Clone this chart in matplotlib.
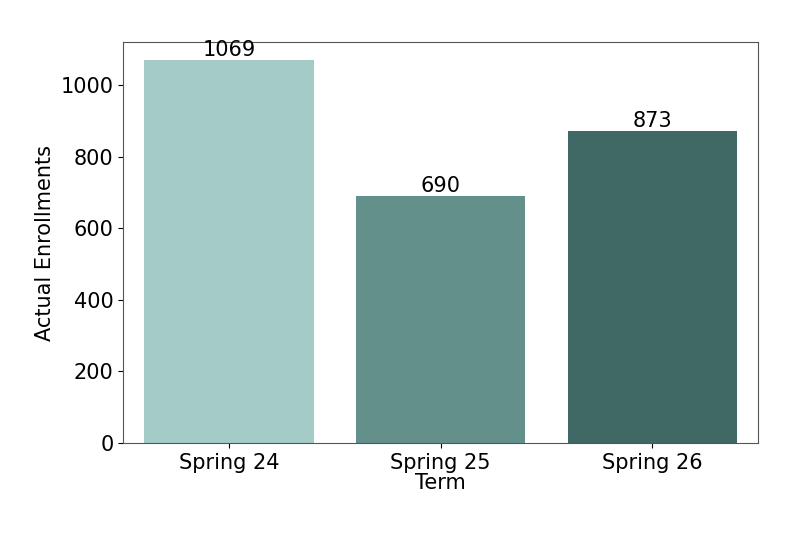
import matplotlib
matplotlib.use("Agg")
import matplotlib.pyplot as plt

terms = ["Spring 24", "Spring 25", "Spring 26"]
enrollments = [1069, 690, 873]
colors = ["#a5cbc7", "#64908b", "#406966"]

fig = plt.figure(figsize=(8, 5.33), dpi=100)
ax = fig.add_axes([0.154, 0.169, 0.7935, 0.752])
bars = ax.bar(range(len(terms)), enrollments, width=0.8, color=colors)
for i, v in enumerate(enrollments):
    ax.text(i, v, str(v), ha="center", va="bottom", fontsize=15)
ax.set_xticks(range(len(terms)))
ax.set_xticklabels(terms, fontsize=15)
ax.tick_params(axis="y", labelsize=15)
ax.set_xlim(-0.5, 2.5)
ax.set_ylim(0, 1120)
ax.set_xlabel("Term", fontsize=15, labelpad=0)
ax.set_ylabel("Actual Enrollments", fontsize=15)
for s in ax.spines.values():
    s.set_color("#555555")
fig.savefig("out.png", dpi=100)
